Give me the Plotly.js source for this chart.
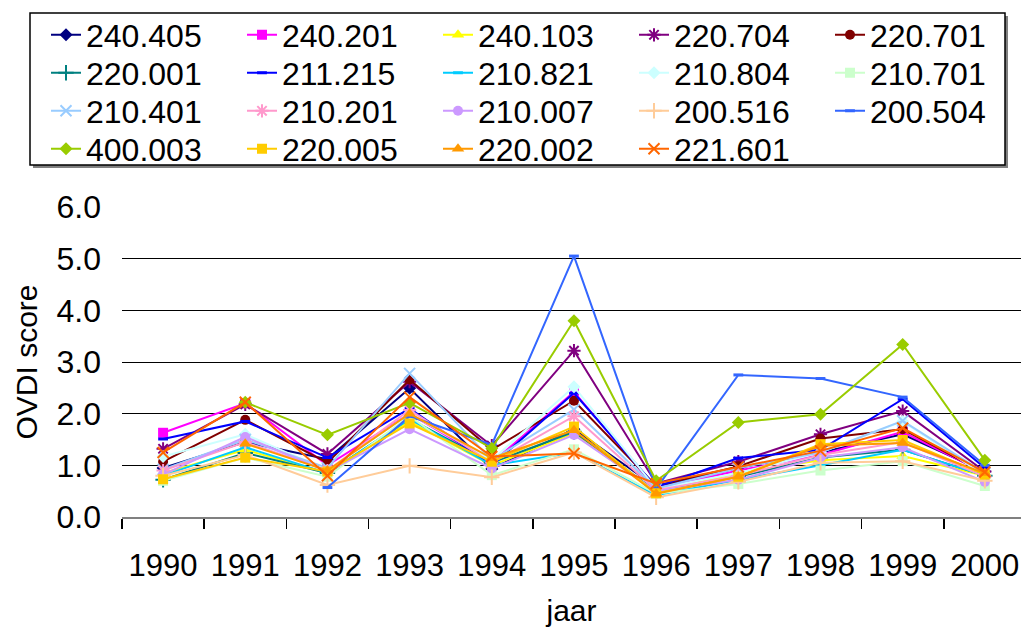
<!DOCTYPE html>
<html>
<head>
<meta charset="utf-8">
<script src="https://cdn.plot.ly/plotly-3.0.1.min.js"></script>
<style>
html,body{margin:0;padding:0;background:#fff;}
#chart{width:1021px;height:631px;}
</style>
</head>
<body>
<div id="chart"></div>
<script>
// ---- data ----
var years = ["1990","1991","1992","1993","1994","1995","1996","1997","1998","1999","2000"];
var seriesNames = ["240.405","240.201","240.103","220.704","220.701","220.001","211.215","210.821","210.804","210.701","210.401","210.201","210.007","200.516","200.504","400.003","220.005","220.002","221.601"];
var s240405 = [0.95, 1.45, 1.12, 2.49, 0.93, 1.70, 0.58, 0.95, 1.25, 1.60, 0.88];
var s240201 = [1.63, 2.20, 1.00, 2.00, 1.05, 2.42, 0.55, 0.90, 1.20, 1.65, 0.85];
var s240103 = [0.85, 1.30, 0.85, 1.85, 1.00, 1.62, 0.48, 0.85, 1.10, 1.18, 0.80];
var s220704 = [1.32, 2.18, 1.22, 2.62, 1.38, 3.22, 0.65, 1.07, 1.60, 2.05, 0.88];
var s220701 = [1.07, 1.88, 1.05, 2.66, 1.30, 2.25, 0.60, 0.98, 1.52, 1.70, 0.85];
var s220001 = [0.72, 1.24, 0.85, 1.90, 1.05, 1.65, 0.50, 0.78, 1.15, 1.30, 0.80];
var s211215 = [1.51, 1.85, 1.15, 2.10, 1.00, 2.40, 0.58, 1.14, 1.30, 2.28, 0.95];
var s210821 = [0.80, 1.35, 0.85, 1.90, 1.00, 1.25, 0.42, 0.72, 1.00, 1.30, 0.80];
var s210804 = [1.17, 1.60, 0.90, 2.00, 1.10, 2.52, 0.55, 0.85, 1.25, 1.85, 0.80];
var s210701 = [0.70, 1.15, 0.78, 1.95, 0.81, 1.31, 0.45, 0.64, 0.90, 1.08, 0.60];
var s210401 = [0.92, 1.50, 0.95, 2.78, 1.10, 2.08, 0.55, 0.95, 1.25, 1.86, 0.85];
var s210201 = [0.90, 1.45, 0.90, 2.07, 1.05, 1.95, 0.52, 0.80, 1.20, 1.45, 0.78];
var s210007 = [0.82, 1.55, 0.88, 1.70, 0.94, 1.59, 0.50, 0.72, 1.15, 1.35, 0.68];
var s200516 = [0.80, 1.20, 0.62, 0.99, 0.77, 1.25, 0.38, 0.68, 1.05, 1.08, 0.70];
var s200504 = [null, null, 0.57, 1.95, 1.40, 5.05, 0.55, 2.75, 2.68, 2.32, 1.00];
var s400003 = [null, 2.22, 1.59, 2.21, 1.33, 3.80, 0.70, 1.83, 1.99, 3.34, 1.10];
var s220005 = [0.73, 1.15, 0.88, 1.81, 1.07, 1.75, 0.46, 0.78, 1.41, 1.49, 0.82];
var s220002 = [null, 1.42, 0.90, 2.00, 1.14, 1.68, 0.45, 0.78, 1.38, 1.43, 0.85];
var s221601 = [1.25, 2.22, 0.80, 2.32, 1.17, 1.23, 0.65, 0.97, 1.28, 1.72, 0.87];
var yTicks = [0, 1, 2, 3, 4, 5, 6];

var seriesValues = [s240405, s240201, s240103, s220704, s220701, s220001, s211215, s210821, s210804, s210701, s210401, s210201, s210007, s200516, s200504, s400003, s220005, s220002, s221601];

// ---- styles ----
var styles = [
  {c:"#000080", sym:"diamond", sz:10},
  {c:"#FF00FF", sym:"square", sz:10},
  {c:"#FFFF00", sym:"triangle-up", sz:11},
  {c:"#800080", sym:"asterisk-open", sz:11, open:true},
  {c:"#800000", sym:"circle", sz:10},
  {c:"#008080", sym:"cross-thin-open", sz:11, open:true},
  {c:"#0000FF", sym:"line-ew-open", sz:7, open:true, lw:3},
  {c:"#00CCFF", sym:"line-ew-open", sz:7, open:true, lw:3},
  {c:"#CCFFFF", sym:"diamond", sz:10},
  {c:"#CCFFCC", sym:"square", sz:10},
  {c:"#99CCFF", sym:"x-thin-open", sz:11, open:true},
  {c:"#FF99CC", sym:"asterisk-open", sz:11, open:true},
  {c:"#CC99FF", sym:"circle", sz:10},
  {c:"#FFCC99", sym:"cross-thin-open", sz:11, open:true},
  {c:"#3366FF", sym:"line-ew-open", sz:7, open:true, lw:3},
  {c:"#99CC00", sym:"diamond", sz:10},
  {c:"#FFCC00", sym:"square", sz:10},
  {c:"#FF9900", sym:"triangle-up", sz:11},
  {c:"#FF6600", sym:"x-thin-open", sz:11, open:true}
];

var legendIds = ["legend", "legend2", "legend3", "legend4"];

var traces = seriesNames.map(function(name, i){
  var st = styles[i];
  return {
    type: "scatter",
    mode: "lines+markers",
    name: name,
    legend: legendIds[Math.floor(i / 5)],
    x: years,
    y: seriesValues[i],
    connectgaps: false,
    line: {color: st.c, width: 2},
    marker: {
      symbol: st.sym, size: st.sz, color: st.c,
      line: {color: st.c, width: st.open ? (st.lw || 2) : 0}
    },
    cliponaxis: false
  };
});

var W = 1021, H = 631;
var L = 122, R = 0, T = 207, B = 114;
var pw = W - L - R, ph = H - T - B;
function px2x(p){ return (p - L) / pw; }
function py2y(p){ return (H - B - p) / ph; }

var font = "Arial, 'Liberation Sans', sans-serif";

function legendRow(cy){
  return {
    orientation: "h",
    x: px2x(46), xanchor: "left",
    y: py2y(cy), yanchor: "middle",
    bgcolor: "rgba(0,0,0,0)",
    borderwidth: 0,
    font: {family: font, size: 32, color: "#000"},
    entrywidth: 151,
    entrywidthmode: "pixels",
    itemwidth: 30,
    traceorder: "normal",
    tracegroupgap: 0
  };
}

var layout = {
  width: W, height: H,
  margin: {l: L, r: R, t: T, b: B, pad: 0, autoexpand: false},
  paper_bgcolor: "#fff",
  plot_bgcolor: "#fff",
  font: {family: font, size: 29, color: "#000"},
  showlegend: true,
  legend: legendRow(35),
  legend2: legendRow(73),
  legend3: legendRow(111),
  legend4: legendRow(149),
  xaxis: {
    type: "category",
    categoryorder: "array",
    categoryarray: years,
    range: [-0.5, 10.44],
    showgrid: false,
    zeroline: false,
    showline: true,
    linecolor: "#808080",
    linewidth: 2,
    ticks: "outside",
    tickson: "boundaries",
    ticklen: 10,
    tickwidth: 1.5,
    tickcolor: "#000",
    ticklabelstandoff: 20,
    tickfont: {family: font, size: 31, color: "#000"},
    title: {text: "jaar", font: {family: font, size: 30, color: "#000"}, standoff: 18},
    automargin: false,
    fixedrange: true
  },
  yaxis: {
    range: [0, 6],
    tickvals: yTicks,
    tickformat: ".1f",
    showgrid: true,
    gridcolor: "#000",
    gridwidth: 1,
    zeroline: false,
    showline: false,
    ticks: "",
    ticklabelstandoff: 20,
    tickfont: {family: font, size: 32, color: "#000"},
    title: {text: "OVDI score", font: {family: font, size: 30, color: "#000"}, standoff: 10},
    automargin: false,
    fixedrange: true
  },
  shapes: [
    {type: "rect", xref: "paper", yref: "paper", layer: "below",
     x0: px2x(33), x1: px2x(1008), y0: py2y(168), y1: py2y(16),
     fillcolor: "#808080", line: {width: 0}},
    {type: "rect", xref: "paper", yref: "paper", layer: "below",
     x0: px2x(30), x1: px2x(1005), y0: py2y(165), y1: py2y(13),
     fillcolor: "#fff", line: {color: "#000", width: 1.5}}
  ]
};

Plotly.newPlot("chart", traces, layout, {displayModeBar: false, staticPlot: true});
</script>
</body>
</html>
